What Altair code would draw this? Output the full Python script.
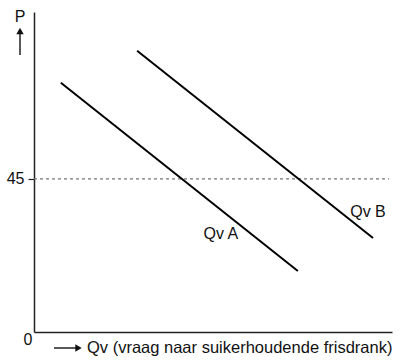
import altair as alt
import pandas as pd

# Demand curves (x: quantity units 0-100, y: price units 0-94)
line_names = ["Qv A", "Qv A", "Qv B", "Qv B"]
line_x = [7.5, 73.7, 28.8, 94.7]
line_y = [73.2, 17.9, 82.6, 27.6]

# Reference price level
ref_price = 45
ref_x = [0, 99.2]

# Curve labels
label_text = ["Qv A", "Qv B"]
label_x = [52.2, 93.3]
label_y = [28.8, 35.3]

FONT = "Liberation Sans"

lines_df = pd.DataFrame({"name": line_names, "x": line_x, "y": line_y})
ref_df = pd.DataFrame({"x": ref_x, "y": [ref_price, ref_price]})
lab_df = pd.DataFrame({"t": label_text, "x": label_x, "y": label_y})

xs = alt.Scale(domain=[0, 100], nice=False, zero=False)
ys = alt.Scale(domain=[0, 94], nice=False, zero=False)

xaxis = alt.Axis(title=None, labels=False, ticks=False, grid=False,
                 domainColor="#222", domainWidth=1.5)
yaxis = alt.Axis(title=None, values=[ref_price], grid=False, tickSize=6,
                 tickColor="#222", tickWidth=1.2, domainColor="#222",
                 domainWidth=1.5, labelFont=FONT, labelFontSize=16,
                 labelColor="#111", labelPadding=4)

ref = alt.Chart(ref_df).mark_line(color="#777", strokeDash=[3, 3], strokeWidth=1.2).encode(
    x=alt.X("x:Q", scale=xs, axis=xaxis),
    y=alt.Y("y:Q", scale=ys, axis=yaxis),
)

lines = alt.Chart(lines_df).mark_line(color="#000", strokeWidth=2).encode(
    x=alt.X("x:Q", scale=xs),
    y=alt.Y("y:Q", scale=ys),
    detail="name:N",
)

labels = alt.Chart(lab_df).mark_text(font=FONT, fontSize=16, color="#111",
                                     align="center", baseline="middle").encode(
    x=alt.X("x:Q", scale=xs),
    y=alt.Y("y:Q", scale=ys),
    text="t:N",
)

one = pd.DataFrame({"a": [0]})

p_text = alt.Chart(one).mark_text(text="P", font=FONT, fontSize=16, color="#111",
                                  align="center", baseline="middle").encode(
    x=alt.value(-14), y=alt.value(5))
p_shaft = alt.Chart(one).mark_rule(color="#222", strokeWidth=1.5).encode(
    x=alt.value(-14), y=alt.value(43), y2=alt.value(22))
p_head = alt.Chart(one).mark_point(shape="triangle-up", filled=True, size=55,
                                   color="#111", opacity=1).encode(
    x=alt.value(-14), y=alt.value(19))

zero_text = alt.Chart(one).mark_text(text="0", font=FONT, fontSize=16, color="#111",
                                     align="center", baseline="middle").encode(
    x=alt.value(-6), y=alt.value(328))

q_shaft = alt.Chart(one).mark_rule(color="#222", strokeWidth=1.5).encode(
    x=alt.value(20), x2=alt.value(42), y=alt.value(336))
q_head = alt.Chart(one).mark_point(shape="triangle-right", filled=True, size=55,
                                   color="#111", opacity=1).encode(
    x=alt.value(44.5), y=alt.value(336))
q_text = alt.Chart(one).mark_text(text="Qv (vraag naar suikerhoudende frisdrank)",
                                  font=FONT, fontSize=16.5, color="#111",
                                  align="left", baseline="alphabetic").encode(
    x=alt.value(53), y=alt.value(341))

chart = alt.layer(
    ref, lines, labels, p_text, p_shaft, p_head, zero_text, q_shaft, q_head, q_text
).properties(
    width=358, height=320,
    padding={"left": 34, "top": 12, "right": 9, "bottom": 31},
    autosize=alt.AutoSizeParams(type="none"),
).configure_view(stroke=None)

chart.save("out.html", embed_options={"renderer": "svg", "actions": False})
